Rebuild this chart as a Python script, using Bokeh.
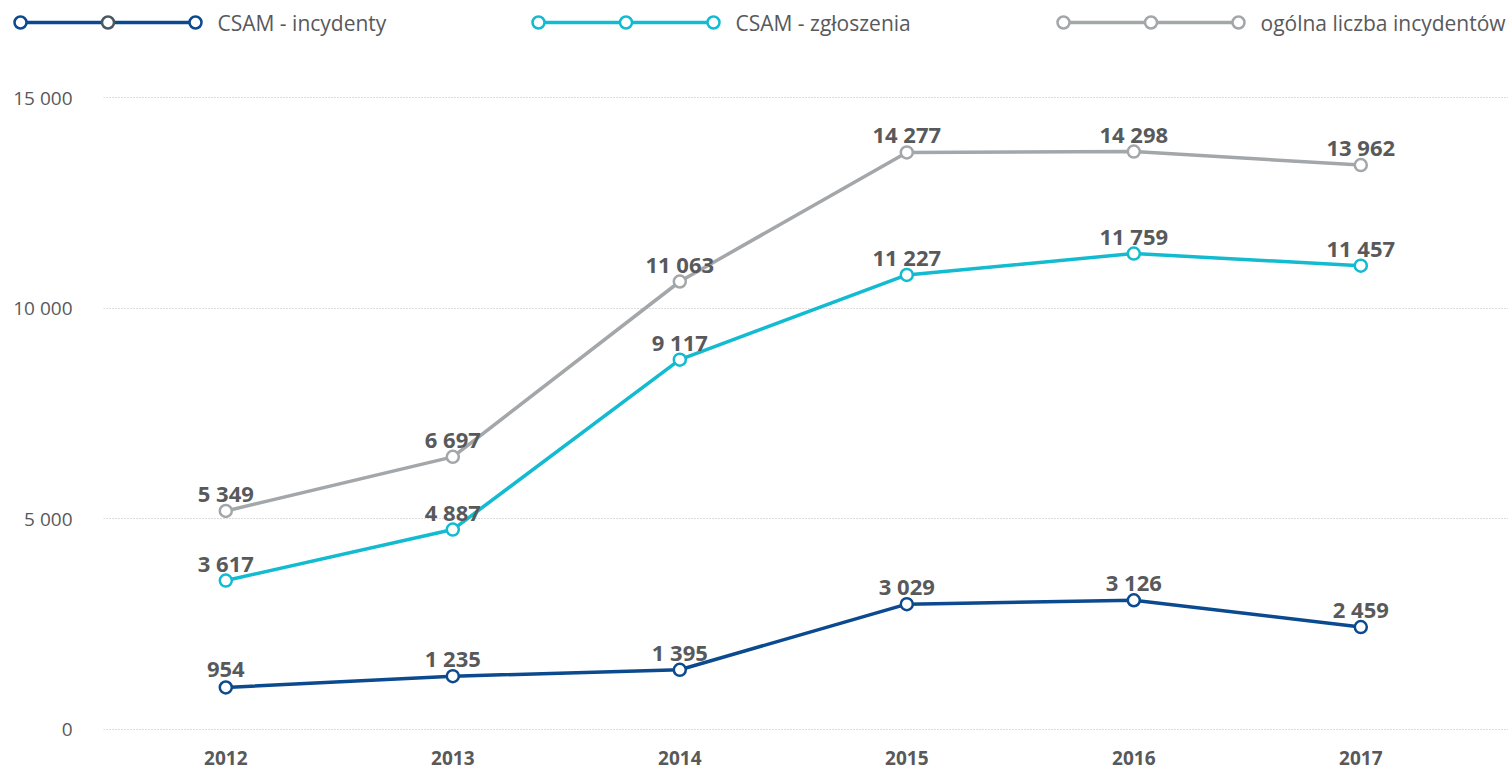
from bokeh.plotting import figure
from bokeh.models import Range1d, FixedTicker, ColumnDataSource
from bokeh.core.properties import value
from bokeh.embed import file_html
from bokeh.resources import INLINE

# ---------------- data ----------------
years = [2012, 2013, 2014, 2015, 2016, 2017]
csam_incydenty = [954, 1235, 1395, 3029, 3126, 2459]
csam_zgloszenia = [3617, 4887, 9117, 11227, 11759, 11457]
ogolna_liczba = [5349, 6697, 11063, 14277, 14298, 13962]
series_names = ["CSAM - incydenty", "CSAM - zgłoszenia", "ogólna liczba incydentów"]
y_tick_values = [0, 5000, 10000, 15000]
y_tick_labels = ["0", "5 000", "10 000", "15 000"]

# ---------------- style ----------------
colors = ["#0b4a8e", "#12bbd0", "#a3a7a9"]
legend_mid_colors = ["#4b5862", "#12bbd0", "#a3a7a9"]
text_color = "#58595b"
FONT = "Open Sans"

W = 1508
LEG_H = 45
MAIN_H = 731
PAGE_X0, PAGE_Y0 = 0, 0

ZERO_Y = 725.3
PX_PER_UNIT = 0.04016
GRID_ZERO_Y = 728.5
GRID_PX_PER_UNIT = 210.5 / 5000.0

MB_TOP, MB_BOTTOM, MB_LEFT = 27, 30, 103
main_top_page = PAGE_Y0 + LEG_H
frame_top = main_top_page + MB_TOP
frame_bottom = main_top_page + MAIN_H - MB_BOTTOM
y_top = (ZERO_Y - frame_top) / PX_PER_UNIT
y_bottom = (ZERO_Y - frame_bottom) / PX_PER_UNIT

X2012_PAGE = 225.3
PX_PER_YEAR = 227.0
frame_left = PAGE_X0 + MB_LEFT
frame_right = PAGE_X0 + W
x_left = years[0] + (frame_left - X2012_PAGE) / PX_PER_YEAR
x_right = years[0] + (frame_right - X2012_PAGE) / PX_PER_YEAR

tick_pos = [(ZERO_Y - (GRID_ZERO_Y - v * GRID_PX_PER_UNIT)) / PX_PER_UNIT for v in y_tick_values]

# ---------------- main figure ----------------
p = figure(width=W, height=MAIN_H, output_backend="svg", toolbar_location=None,
           x_range=Range1d(x_left, x_right), y_range=Range1d(y_bottom, y_top),
           min_border_left=MB_LEFT, min_border_right=0,
           min_border_top=MB_TOP, min_border_bottom=MB_BOTTOM)
p.outline_line_color = None

p.xgrid.grid_line_color = None
p.ygrid.grid_line_color = "#b8b8b8"
p.ygrid.grid_line_dash = "1 2"
p.ygrid.grid_line_width = 1

p.yaxis.ticker = FixedTicker(ticks=tick_pos)
p.yaxis.major_label_overrides = {t: lab for t, lab in zip(tick_pos, y_tick_labels)}
p.yaxis.axis_line_color = None
p.yaxis.major_tick_line_color = None
p.yaxis.minor_tick_line_color = None
p.yaxis.major_tick_out = 0
p.yaxis.major_tick_in = 0
p.yaxis.major_label_standoff = 31
p.yaxis.major_label_text_font = FONT
p.yaxis.major_label_text_font_size = "19px"
p.yaxis.major_label_text_color = text_color

p.xaxis.ticker = FixedTicker(ticks=years)
p.xaxis.axis_line_color = None
p.xaxis.major_tick_line_color = None
p.xaxis.minor_tick_line_color = None
p.xaxis.major_tick_out = 0
p.xaxis.major_tick_in = 0
p.xaxis.major_label_standoff = 4
p.xaxis.major_label_text_font = FONT
p.xaxis.major_label_text_font_size = "19px"
p.xaxis.major_label_text_font_style = "bold"
p.xaxis.major_label_text_color = text_color

series = [csam_incydenty, csam_zgloszenia, ogolna_liczba]
for vals, col in zip(series, colors):
    src = ColumnDataSource(dict(x=years, y=vals,
                                lab=[f"{v:,}".replace(",", " ") for v in vals]))
    p.line("x", "y", source=src, line_color=col, line_width=3.5)
    p.scatter("x", "y", source=src, size=12, fill_color="white",
              line_color=col, line_width=2.5)
    p.text("x", "y", text="lab", source=src, text_align="center",
           text_baseline="alphabetic", y_offset=-18,
           text_font=value(FONT), text_font_style="bold",
           text_font_size="22px", text_color=text_color)

# ---------------- legend figure ----------------
lg = figure(width=W, height=LEG_H, output_backend="svg", toolbar_location=None,
            x_range=Range1d(PAGE_X0, PAGE_X0 + W),
            y_range=Range1d(PAGE_Y0 + LEG_H, PAGE_Y0),
            min_border=0, min_border_left=0, min_border_right=0,
            min_border_top=0, min_border_bottom=0)
lg.axis.visible = False
lg.grid.visible = False
lg.outline_line_color = None

item_start = [20, 538, 1063]
spacing = 87.5
leg_y = 22
for name, col, mid, x0 in zip(series_names, colors, legend_mid_colors, item_start):
    xs = [x0, x0 + spacing, x0 + 2 * spacing]
    lg.line(xs, [leg_y] * 3, line_color=col, line_width=3.5)
    lg.scatter(xs, [leg_y] * 3, size=12, fill_color="white",
               line_color=[col, mid, col], line_width=2.5)
    lg.text([x0 + 2 * spacing + 22], [leg_y], text=[name], text_align="left",
            text_baseline="middle", text_font=value(FONT),
            text_font_size="21px", text_color=text_color)

open("out.html", "w").write(file_html([lg, p], INLINE))
